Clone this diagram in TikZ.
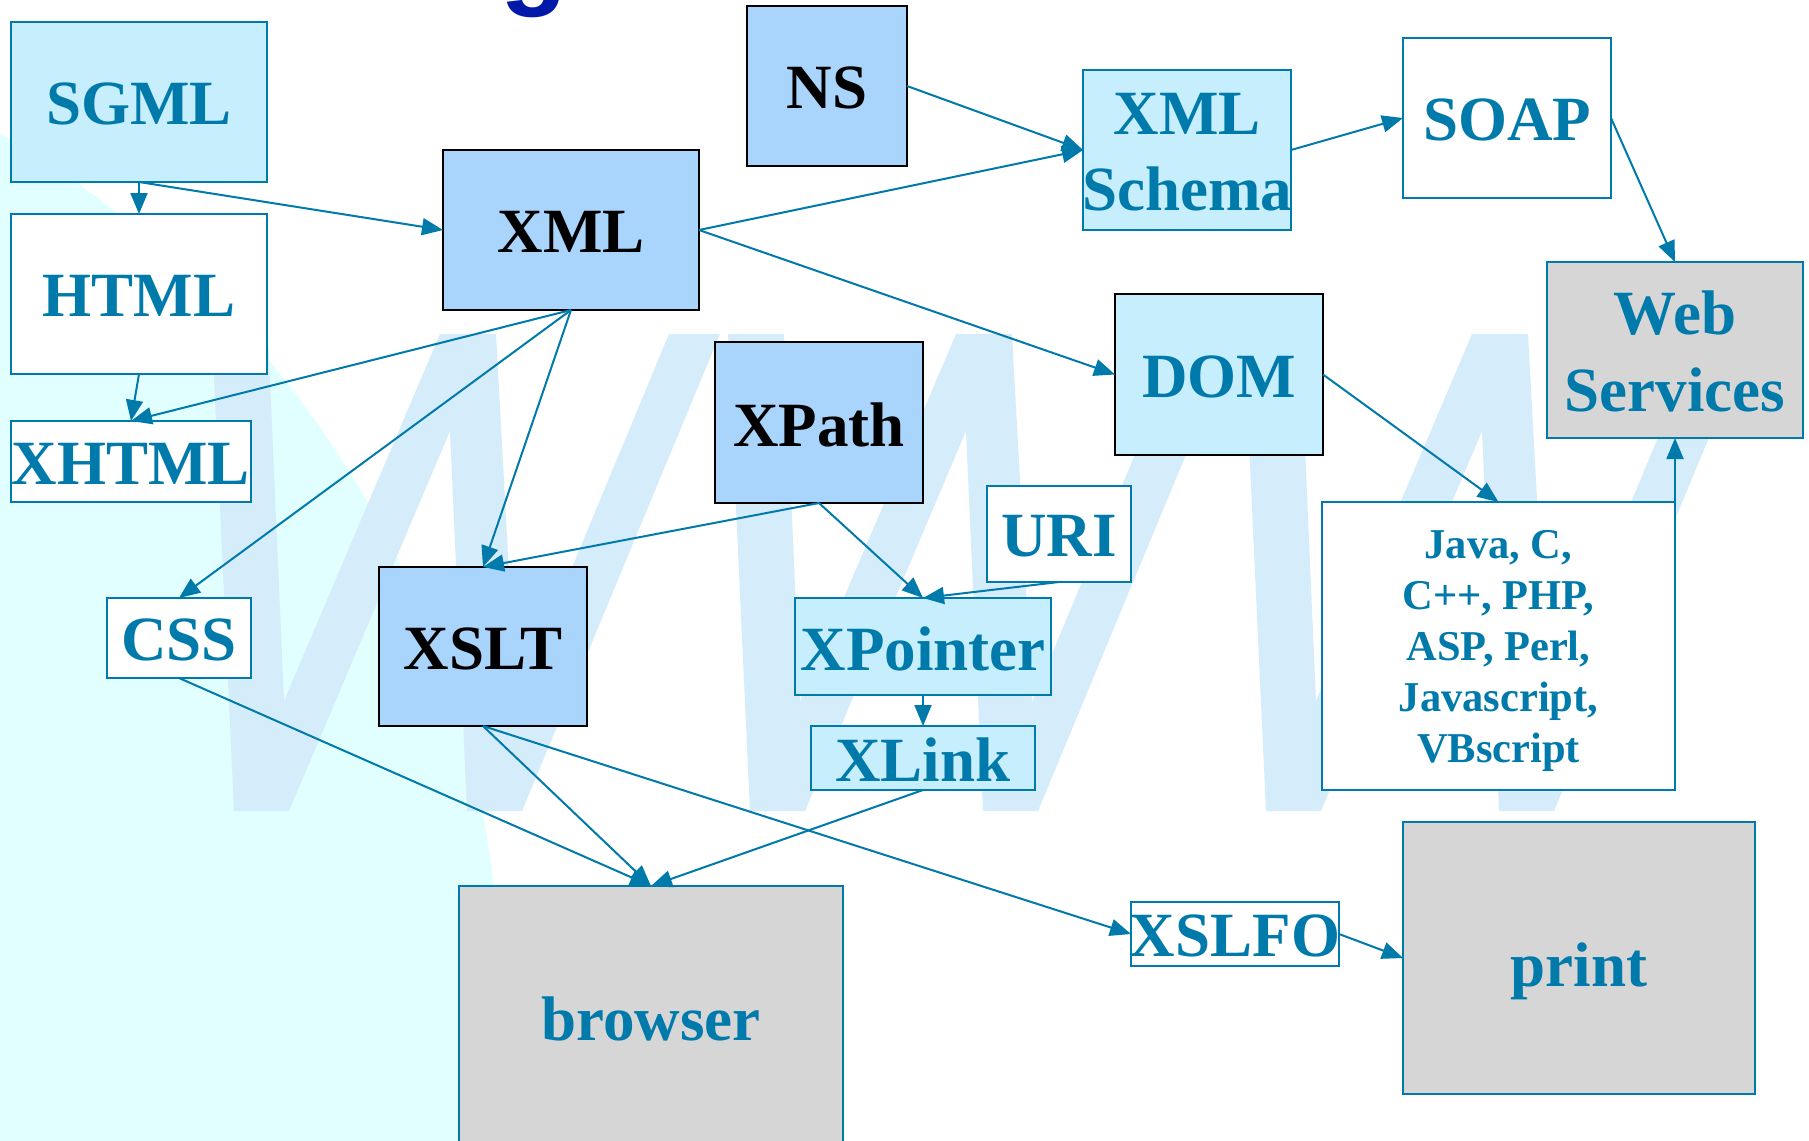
\documentclass[tikz,border=0pt]{standalone}
\usepackage{fontspec}
\setmainfont{Liberation Serif}
\newfontfamily\titlesans{Liberation Sans}
\usetikzlibrary{arrows.meta}

\definecolor{linkteal}{HTML}{007AAB}
\definecolor{paleCyan}{HTML}{C6EEFC}
\definecolor{skyFill}{HTML}{A9D5FD}
\definecolor{greyFill}{HTML}{D6D6D6}
\definecolor{bgCyan}{HTML}{E1FFFF}
\definecolor{wmark}{HTML}{D5ECFB}
\definecolor{titleBlue}{HTML}{0019A8}

% several centred lines
\newcommand\stacktext[1]{\begin{tabular}{@{}c@{}}#1\end{tabular}}

\tikzset{
  term/.style={rectangle, inner sep=0pt, outer sep=0pt, line width=2.2pt, draw=linkteal},
  core/.style={draw=black, line width=2.8pt},
  paleBox/.style={fill=paleCyan},
  skyBox/.style={fill=skyFill},
  greyBox/.style={fill=greyFill},
  plainBox/.style={fill=white},
  wh/.style 2 args={minimum width=#1pt, minimum height=#2pt},
  caption/.style={inner sep=0pt, text=linkteal, font=\bfseries\fontsize{63}{75}\selectfont},
  ink/.style={text=black},
  link/.style={draw=linkteal, line width=2pt, -{Triangle[length=21pt,width=17pt]}},
}

\begin{document}
\begin{tikzpicture}[x=1pt,y=-1pt]
\useasboundingbox (0,0) rectangle (1809,1140);
\clip (0,0) rectangle (1809,1140);
\fill[white] (0,0) rectangle (1809,1140);

% background swoosh on the left
\fill[bgCyan] (-500,1000) circle (1000pt);

% large watermark letters
\foreach \o in {212,728,1244}{
  \fill[wmark] (\o,334) -- (\o+56,334) -- (\o+72,701) -- (\o+228,334) -- (\o+284,334)
    -- (\o+304,702) -- (\o+457,334) -- (\o+508,334) -- (\o+310,811) -- (\o+255,811)
    -- (\o+238,431) -- (\o+77,811) -- (\o+22,811) -- cycle;
}

% descender of the slide title
\node[font=\titlesans\bfseries\fontsize{110}{110}\selectfont, text=titleBlue,
  anchor=base, inner sep=0pt] (titleg) at (534,-5) {g};

% boxes
\node[term, paleBox, wh={256}{160}] (sgml) at (139,102) {};
\node[term, plainBox, wh={256}{160}] (html) at (139,294) {};
\node[term, plainBox, wh={240}{81}] (xhtml) at (131,461.5) {};
\node[term, skyBox, core, wh={256}{160}] (xml) at (571,230) {};
\node[term, skyBox, core, wh={160}{160}] (ns) at (827,86) {};
\node[term, paleBox, wh={208}{160}] (schema) at (1187,150) {};
\node[term, plainBox, wh={208}{160}] (soap) at (1507,118) {};
\node[term, greyBox, wh={256}{176}] (web) at (1675,350) {};
\node[term, paleBox, core, wh={208}{161}] (dom) at (1219,374.5) {};
\node[term, skyBox, core, wh={208}{161}] (xpath) at (819,422.5) {};
\node[term, plainBox, wh={144}{96}] (uri) at (1059,534) {};
\node[term, paleBox, wh={256}{97}] (xpointer) at (923,646.5) {};
\node[term, paleBox, wh={224}{64}] (xlink) at (923,758) {};
\node[term, plainBox, wh={353}{288}] (langs) at (1498.5,646) {};
\node[term, plainBox, wh={144}{80}] (css) at (179,638) {};
\node[term, skyBox, core, wh={208}{159}] (xslt) at (483,646.5) {};
\node[term, greyBox, wh={384}{259}] (browser) at (651,1015.5) {};
\node[term, plainBox, wh={208}{64}] (xslfo) at (1235,934) {};
\node[term, greyBox, wh={352}{272}] (print) at (1579,958) {};

% box texts
\node[caption] (sgmlT) at ([yshift=-2pt]sgml.center) {SGML};
\node[caption] (htmlT) at ([yshift=-2pt]html.center) {HTML};
\node[caption] (xhtmlT) at ([yshift=-2pt]xhtml.center) {XHTML};
\node[caption, ink] (xmlT) at ([yshift=-2pt]xml.center) {XML};
\node[caption, ink] (nsT) at ([yshift=-2pt]ns.center) {NS};
\node[caption] (schemaT) at ([yshift=-7pt]schema.center)
  {\fontsize{63}{76.5}\selectfont\stacktext{XML\\Schema}};
\node[caption] (soapT) at ([yshift=-2pt]soap.center) {SOAP};
\node[caption] (webT) at ([yshift=-7.7pt]web.center)
  {\fontsize{63}{77}\selectfont\stacktext{Web\\Services}};
\node[caption] (domT) at ([yshift=-2pt]dom.center) {DOM};
\node[caption, ink] (xpathT) at ([yshift=-2pt]xpath.center) {XPath};
\node[caption] (uriT) at ([yshift=-2pt]uri.center) {URI};
\node[caption] (xpointerT) at ([yshift=-2pt]xpointer.center) {XPointer};
\node[caption] (xlinkT) at ([yshift=-2pt]xlink.center) {XLink};
\node[caption] (langsT) at ([yshift=-4.7pt]langs.center)
  {\fontsize{42.5}{51}\selectfont\stacktext{Java, C,\\C++, PHP,\\ASP, Perl,\\Javascript,\\VBscript}};
\node[caption] (cssT) at ([yshift=-2pt]css.center) {CSS};
\node[caption, ink] (xsltT) at ([yshift=-2pt]xslt.center) {XSLT};
\node[caption] (browserT) at ([yshift=-3pt]browser.center) {browser};
\node[caption] (xslfoT) at ([yshift=-2pt]xslfo.center) {XSLFO};
\node[caption] (printT) at ([yshift=-13pt]print.center) {print};

% connectors
\draw[link] (sgml.south) -- (html.north);
\draw[link] (sgml.south) -- (xml.west);
\draw[link] (html.south) -- (xhtml.north);
\draw[link] (xml.south) -- (xhtml.north);
\draw[link] (xml.south) -- (css.north);
\draw[link] (xml.south) -- (xslt.north);
\draw[link] (xml.east) -- (schema.west);
\draw[link] (xml.east) -- (dom.west);
\draw[link] (ns.east) -- (schema.west);
\draw[link] (schema.east) -- (soap.west);
\draw[link] (soap.east) -- (web.north);
\draw[link] (dom.east) -- (langs.north);
\draw[link] (langs.north east) -- (web.south);
\draw[link] (xpath.south) -- (xslt.north);
\draw[link] (xpath.south) -- (xpointer.north);
\draw[link] (uri.south) -- (xpointer.north);
\draw[link] (xpointer.south) -- (xlink.north);
\draw[link] (css.south) -- (browser.north);
\draw[link] (xslt.south) -- (browser.north);
\draw[link] (xlink.south) -- (browser.north);
\draw[link] (xslt.south) -- (xslfo.west);
\draw[link] (xslfo.east) -- (print.west);
\end{tikzpicture}
\end{document}
